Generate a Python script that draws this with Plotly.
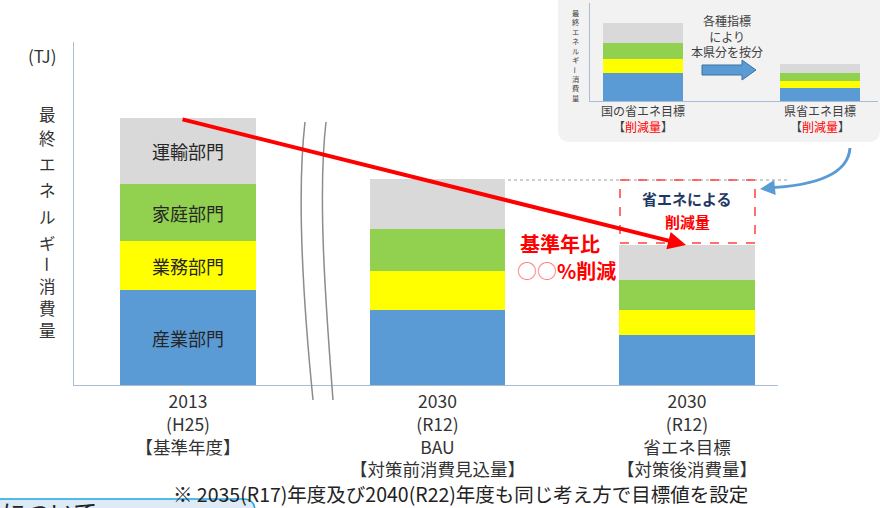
import re
import plotly.graph_objects as go

W, H = 882, 508

# ---------------- data ----------------
categories = [
    "2013<br>(H25)<br>【基準年度】",
    "2030<br>(R12)<br>BAU<br>【対策前消費見込量】",
    "2030<br>(R12)<br>省エネ目標<br>【対策後消費量】",
]
sectors = ["産業部門", "業務部門", "家庭部門", "運輸部門"]
industry = [95, 75, 50]
business = [49, 39, 25]
household = [57, 42, 30]
transport = [66, 50, 35]

inset_categories = [
    "国の省エネ目標<br>【<span style='color:#FF0000'>削減量</span>】",
    "県省エネ目標<br>【<span style='color:#FF0000'>削減量</span>】",
]
inset_industry = [28, 13]
inset_business = [14, 7]
inset_household = [16, 8]
inset_transport = [20, 9]

colors = ["#5B9BD5", "#FFFF00", "#92D050", "#D9D9D9"]
FONT = "Noto Sans CJK JP"


def px(x):
    return x / W


def py(y):
    return 1 - y / H


def path(s):
    def rep(m):
        x, y = float(m.group(1)), float(m.group(2))
        return f"{px(x):.5f},{py(y):.5f}"
    return re.sub(r"(-?[\d.]+),(-?[\d.]+)", rep, s)


fig = go.Figure()

main_series = [industry, business, household, transport]
for name, vals, col in zip(sectors, main_series, colors):
    fig.add_trace(go.Bar(
        x=categories, y=vals, name=name, marker=dict(color=col, line=dict(width=0)),
        width=0.545, text=[name, "", ""], textposition="inside",
        insidetextanchor="middle", textangle=0, constraintext="none",
        textfont=dict(size=18, color="#262626", family=FONT),
        xaxis="x", yaxis="y", hoverinfo="skip",
    ))

inset_series = [inset_industry, inset_business, inset_household, inset_transport]
for name, vals, col in zip(sectors, inset_series, colors):
    fig.add_trace(go.Bar(
        x=inset_categories, y=vals, name=name, marker=dict(color=col, line=dict(width=0)),
        width=0.452, xaxis="x2", yaxis="y2", hoverinfo="skip",
    ))

axis_line = "#A9BCD6"
fig.update_layout(
    width=W, height=H, barmode="stack", showlegend=False,
    margin=dict(l=0, r=0, t=0, b=0),
    paper_bgcolor="white", plot_bgcolor="rgba(0,0,0,0)",
    font=dict(family=FONT, color="#333333"),
    xaxis=dict(domain=[px(74), px(778)], anchor="y", type="category",
               range=[-0.457, 2.365], showline=True, linecolor=axis_line,
               linewidth=1, ticks="", showgrid=False, zeroline=False,
               tickfont=dict(size=17.5, color="#333333", family=FONT),
               ticklabelstandoff=1),
    yaxis=dict(domain=[py(385), py(42)], anchor="x", range=[0, 343],
               showline=True, linecolor=axis_line, linewidth=1,
               showticklabels=False, ticks="", showgrid=False, zeroline=False),
    xaxis2=dict(domain=[px(590), px(878)], anchor="y2", type="category",
                range=[-0.2994, 1.328], showline=True, linecolor=axis_line,
                linewidth=1, ticks="", showgrid=False, zeroline=False,
                tickfont=dict(size=12, color="#404040", family=FONT),
                ticklabelstandoff=0),
    yaxis2=dict(domain=[py(101), py(3)], anchor="x2", range=[0, 98],
                showline=True, linecolor=axis_line, linewidth=1,
                showticklabels=False, ticks="", showgrid=False, zeroline=False),
)

shapes = []
# inset background box
shapes.append(dict(type="path", xref="paper", yref="paper", layer="below",
                   path=path("M 558,-10 L 558,130 Q 558,142 570,142 L 868,142 Q 880,142 880,130 L 880,-10 Z"),
                   fillcolor="#F2F2F2", line=dict(width=0)))
# bottom-left box
shapes.append(dict(type="path", xref="paper", yref="paper", layer="below",
                   path=path("M -10,499 L 243,499 Q 255,499 255,511 L 255,540 L -10,540 Z"),
                   fillcolor="#DEEBF7", line=dict(color="#1EA8E0", width=1.5)))
# break marks
shapes.append(dict(type="path", xref="paper", yref="paper",
                   path=path("M 305,122 C 296,200 305,320 313,400"),
                   line=dict(color="#8C8C8C", width=1.5)))
shapes.append(dict(type="path", xref="paper", yref="paper",
                   path=path("M 326,122 C 317,200 327,320 333,400"),
                   line=dict(color="#8C8C8C", width=1.5)))
# dotted guide line
shapes.append(dict(type="line", xref="paper", yref="paper",
                   x0=px(508), x1=px(788), y0=py(180), y1=py(180),
                   line=dict(color="#BFBFBF", width=1.5, dash="dot")))
# dashed red box
shapes.append(dict(type="rect", xref="paper", yref="paper",
                   x0=px(620), x1=px(755), y0=py(243), y1=py(180),
                   line=dict(color="#FF4040", width=1.5, dash="dash")))
# blue curved arrow
shapes.append(dict(type="path", xref="paper", yref="paper",
                   path=path("M 850,148 C 848,176 812,186 766,188"),
                   line=dict(color="#5B9BD5", width=3)))
# inset block arrow
shapes.append(dict(type="path", xref="paper", yref="paper",
                   path=path("M 702,65 L 742,65 L 742,60 L 756,70 L 742,80 L 742,75 L 702,75 Z"),
                   fillcolor="#5B9BD5", line=dict(color="#41719C", width=1)))
fig.update_layout(shapes=shapes)

ann = []


def text(x, y, t, size, color="#333333", **kw):
    d = dict(xref="paper", yref="paper", x=px(x), y=py(y), text=t, showarrow=False,
             font=dict(size=size, color=color, family=FONT), xanchor="center", yanchor="middle")
    d.update(kw)
    ann.append(d)


text(42, 55, "(TJ)", 17)
# vertical axis title
title_chars = ["最", "終", "エ", "ネ", "ル", "ギ", "ー", "消", "費", "量"]
title_y = [114, 138, 164, 190, 217, 243, 264, 286, 308, 330]
for ch, yy in zip(title_chars, title_y):
    text(47, yy, ch, 16.5, textangle=90 if ch == "ー" else 0)
# inset vertical title
for i, ch in enumerate(title_chars):
    text(575, 13 + i * 9.4, ch, 7.2, color="#404040", textangle=90 if ch == "ー" else 0)

text(727, 36, "各種指標<br>により<br>本県分を按分", 12, color="#404040")
text(560, 243, "<b>基準年比</b>", 20, color="#FF0000")
text(566, 270, "<b><span style='color:#FF8080'>○○</span>%削減</b>", 20, color="#FF0000")
text(687, 199, "<b>省エネによる</b>", 15, color="#1F3864")
text(687, 221, "<b>削減量</b>", 15, color="#FF0000")
text(460, 493.5, "※ 2035(R17)年度及び2040(R22)年度も同じ考え方で目標値を設定", 19.5, color="#222222")
text(0, 511, "について", 24, color="#222222", xanchor="left")

# red reduction arrow
ann.append(dict(xref="paper", yref="paper", x=px(686), y=py(245), ax=-505, ay=-126,
                text="", showarrow=True, arrowcolor="#FF0000", arrowwidth=4,
                arrowhead=2, arrowsize=0.9, standoff=0))
# blue arrow head
ann.append(dict(xref="paper", yref="paper", x=px(760), y=py(189), ax=10, ay=-1,
                text="", showarrow=True, arrowcolor="#5B9BD5", arrowwidth=3,
                arrowhead=2, arrowsize=1, standoff=0))
fig.update_layout(annotations=ann)

fig.write_html("out.html", config={"displayModeBar": False},
               post_script="document.body.style.margin='0';document.body.style.overflow='hidden';")
